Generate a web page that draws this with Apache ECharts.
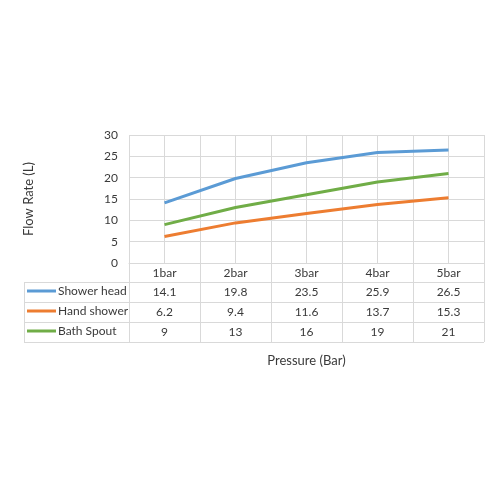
<!DOCTYPE html>
<html>
<head>
<meta charset="utf-8">
<script src="https://cdn.jsdelivr.net/npm/echarts@6/dist/echarts.min.js"></script>
<style>
  html, body { margin: 0; padding: 0; background: #fff; }
  #chart { width: 500px; height: 500px; }
</style>
</head>
<body>
<div id="chart"></div>
<script>
// data
var pressures = ['1bar', '2bar', '3bar', '4bar', '5bar'];
var showerHead = [14.1, 19.8, 23.5, 25.9, 26.5];
var handShower = [6.2, 9.4, 11.6, 13.7, 15.3];
var bathSpout = [9, 13, 16, 19, 21];
var seriesNames = ['Shower head', 'Hand shower', 'Bath Spout'];
var seriesColors = ['#5B9BD5', '#ED7D31', '#70AD47'];
var yTicks = [0, 5, 10, 15, 20, 25, 30];

var allValues = [showerHead, handShower, bathSpout];

// plot/table box
var gLeft = 129, gRight = 484, gTop = 135, gBottom = 263;
var tableLeft = 24, rowH = 20;
var txt = '#3a3a3a', gridCol = '#d9d9d9';
var fontFam = 'Lato, "Open Sans", sans-serif';

var chartDom = document.getElementById('chart');
var chart = echarts.init(chartDom);

// x axes: main category axis + one hidden axis per table row (values as labels)
var xAxes = [{
    type: 'category',
    data: pressures,
    boundaryGap: true,
    position: 'bottom',
    name: 'Pressure (Bar)',
    nameLocation: 'middle',
    nameGap: 91,
    nameTextStyle: { color: txt, fontSize: 13, fontFamily: fontFam },
    axisLine: { show: true, lineStyle: { color: gridCol, width: 1 } },
    axisTick: { show: true, alignWithLabel: false, length: 4 * rowH - 1, lineStyle: { color: gridCol } },
    axisLabel: { color: txt, fontSize: 12, fontFamily: fontFam, margin: 10, verticalAlign: 'middle' },
    splitLine: { show: false }
}];
allValues.forEach(function (vals, i) {
    xAxes.push({
        type: 'category',
        data: vals.map(String),
        position: 'bottom',
        offset: rowH * (i + 1) - 1,
        axisLine: { show: false },
        axisTick: { show: false },
        axisLabel: { color: txt, fontSize: 12, fontFamily: fontFam, margin: 10, verticalAlign: 'middle' },
        splitLine: { show: false }
    });
});
// half-category gridlines (Excel draws lines at category centres and edges)
xAxes.push({
    type: 'value',
    position: 'top',
    min: 0,
    max: pressures.length * 2,
    interval: 1,
    axisLine: { show: false },
    axisTick: { show: false },
    axisLabel: { show: false },
    splitLine: { show: true, lineStyle: { color: gridCol, width: 1 } }
});

// one legend per table row
var legends = seriesNames.map(function (nm, i) {
    return {
        data: [nm],
        left: 27,
        top: gBottom + rowH * (i + 1) + 2,
        padding: 0,
        icon: 'rect',
        itemWidth: 29,
        itemHeight: 3,
        itemGap: 0,
        selectedMode: false,
        textStyle: { color: txt, fontSize: 12, fontFamily: fontFam, padding: [0, 0, 0, -3] }
    };
});

// table lines for the legend column + horizontal row lines
var tableLines = [];
for (var r = 1; r <= 4; r++) {
    var yy = gBottom + rowH * r - 0.5;
    tableLines.push({ type: 'line', shape: { x1: tableLeft, y1: yy, x2: gRight, y2: yy },
        style: { stroke: gridCol, lineWidth: 1 }, silent: true });
}
tableLines.push({ type: 'line', shape: { x1: tableLeft + 0.5, y1: gBottom + rowH - 0.5, x2: tableLeft + 0.5, y2: gBottom + rowH * 4 - 0.5 },
    style: { stroke: gridCol, lineWidth: 1 }, silent: true });

var option = {
    animation: false,
    color: seriesColors,
    textStyle: { fontFamily: fontFam },
    grid: { left: gLeft, right: 500 - gRight, top: gTop, bottom: 500 - gBottom, containLabel: false },
    legend: legends,
    xAxis: xAxes,
    yAxis: {
        type: 'value',
        min: yTicks[0],
        max: yTicks[yTicks.length - 1],
        interval: 5,
        name: 'Flow Rate (L)',
        nameLocation: 'middle',
        nameRotate: 90,
        nameGap: 94,
        nameTextStyle: { color: txt, fontSize: 13, fontFamily: fontFam },
        axisLine: { show: false },
        axisTick: { show: false },
        axisLabel: { color: txt, fontSize: 12, fontFamily: fontFam, margin: 11 },
        splitLine: { show: true, lineStyle: { color: gridCol, width: 1 } }
    },
    graphic: tableLines,
    series: seriesNames.map(function (nm, i) {
        return {
            name: nm,
            type: 'line',
            xAxisIndex: 0,
            data: allValues[i],
            symbol: 'none',
            lineStyle: { width: 3, color: seriesColors[i] },
            itemStyle: { color: seriesColors[i] }
        };
    })
};

if (option && typeof option === "object") {
    chart.setOption(option, true);
}
</script>
</body>
</html>
